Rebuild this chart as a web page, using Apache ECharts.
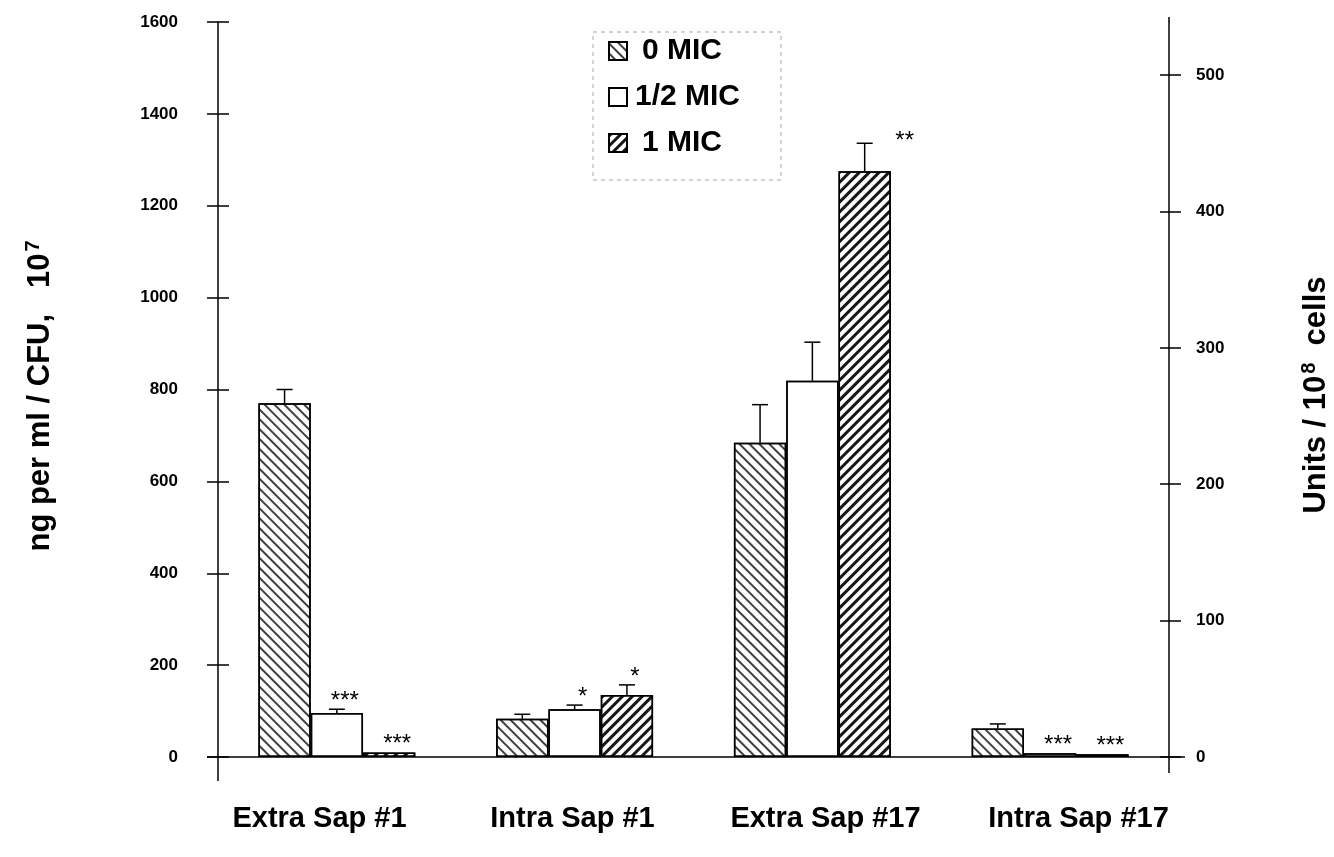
<!DOCTYPE html>
<html>
<head>
<meta charset="utf-8">
<script src="https://cdn.jsdelivr.net/npm/echarts@6/dist/echarts.min.js"></script>
<style>html,body{margin:0;padding:0;background:#fff}#c{width:1334px;height:857px}</style>
</head>
<body>
<div id="c"></div>
<script>
// ---- data ----
const categories = ['Extra Sap #1', 'Intra Sap #1', 'Extra Sap #17', 'Intra Sap #17'];
const seriesNames = ['0 MIC', '1/2 MIC', '1 MIC'];
const mic0 = [770, 83, 684, 62];
const mic0Err = [30, 10, 83, 10];
const micHalf = [96, 104, 819, 8];
const micHalfErr = [8, 9, 84, 0];
const mic1 = [10, 135, 1275, 6];
const mic1Err = [0, 22, 61, 0];
const sig0 = ['', '', '', ''];
const sigHalf = ['***', '*', '', '***'];
const sig1 = ['***', '*', '**', '***'];
const leftTicks = [0, 200, 400, 600, 800, 1000, 1200, 1400, 1600];
const rightTicks = [0, 100, 200, 300, 400, 500];
const leftMax = 1600;
const rightMax = 538.9;
const leftTitle = ['ng per ml / CFU,   10', '7'];
const rightTitle = ['Units / 10', '8', '  cells'];

// ---- layout ----
const GL = 218, GR = 1169, GT = 22, GB = 757;
const BAR_FRAC = 0.22;
const FONT = 'Liberation Sans, Arial, sans-serif';

const chart = echarts.init(document.getElementById('c'), null, {renderer: 'canvas'});

const decal0 = {symbol: 'rect', symbolSize: 1, dashArrayX: [1, 0], dashArrayY: [2, 5], rotation: Math.PI / 4, color: 'rgba(30,30,30,0.85)'};
const decal1 = {symbol: 'rect', symbolSize: 1, dashArrayX: [1, 0], dashArrayY: [3, 4], rotation: -Math.PI / 4, color: 'rgba(10,10,10,0.95)'};

function barSeries(name, data, decal) {
  return {
    name: name, type: 'bar', data: data, barWidth: (BAR_FRAC * 100) + '%', barGap: '0%',
    itemStyle: {color: '#fff', borderColor: '#000', borderWidth: 1.5, decal: decal || {symbol: 'none'}},
    emphasis: {disabled: true}, z: 3
  };
}

function errSeries(idx, vals, errs, sigs) {
  return {
    type: 'custom', silent: true, z: 6,
    data: vals.map((v, i) => [i, v + errs[i], v]),
    encode: {x: 0, y: 1},
    renderItem: function (params, api) {
      const c = api.value(0);
      const band = api.size([1, 0])[0];
      const cx = api.coord([c, 0])[0] + (idx - 1) * band * BAR_FRAC;
      const yv = api.coord([c, api.value(2)])[1];
      const ye = api.coord([c, api.value(1)])[1];
      const children = [];
      const err = api.value(1) - api.value(2);
      if (err > 0) {
        children.push({type: 'line', shape: {x1: cx, y1: yv, x2: cx, y2: ye}, style: {stroke: '#000', lineWidth: 1.5}});
        children.push({type: 'line', shape: {x1: cx - 8, y1: ye, x2: cx + 8, y2: ye}, style: {stroke: '#000', lineWidth: 1.5}});
      }
      const s = sigs[params.dataIndex];
      if (s) {
        const right = s.length === 2;
        children.push({
          type: 'text',
          style: {
            text: s, x: right ? cx + 40 : cx + 8, y: right ? ye + 10 : ye + 4,
            align: 'center', verticalAlign: 'bottom',
            font: '24px ' + FONT, fill: '#000'
          }
        });
      }
      return {type: 'group', children: children};
    }
  };
}

const richTitle = {
  m: {fontFamily: FONT, fontSize: 31, fontWeight: 'bold', color: '#000'},
  s: {fontFamily: FONT, fontSize: 20, fontWeight: 'bold', color: '#000', verticalAlign: 'top', padding: [0, 0, 14, 2]}
};

const option = {
  backgroundColor: '#fff',
  animation: false,
  grid: [
    {left: GL, right: 1334 - GR, top: GT, bottom: 857 - GB, containLabel: false},
    {left: 193, right: 1334 - 1205, top: GT, bottom: 857 - GB, containLabel: false}
  ],
  legend: {
    data: [
      {name: seriesNames[0]},
      {name: seriesNames[1], textStyle: {padding: [0, 0, 0, 3]}},
      {name: seriesNames[2]}
    ],
    orient: 'vertical', left: 603, top: 31,
    itemWidth: 18, itemHeight: 18, itemGap: 16, icon: 'rect',
    textStyle: {fontFamily: FONT, fontSize: 30, fontWeight: 'bold', color: '#000', padding: [0, 0, 0, 10]},
    selectedMode: false
  },
  xAxis: [
    {
      type: 'category', data: categories, gridIndex: 0,
      axisLine: {show: true, lineStyle: {color: '#000', width: 1.5}},
      axisTick: {show: false},
      axisLabel: {show: false},
      splitLine: {show: false}
    },
    {
      type: 'category', data: categories, gridIndex: 1,
      axisLine: {show: false},
      axisTick: {show: false},
      axisLabel: {margin: 47, color: '#000', fontFamily: FONT, fontSize: 29, fontWeight: 'bold'},
      splitLine: {show: false}
    }
  ],
  yAxis: [
    {
      type: 'value', position: 'left', min: 0, max: leftMax, interval: 200,
      axisLine: {show: true, lineStyle: {color: '#000', width: 1.5}},
      axisTick: {show: true, length: 11, lineStyle: {color: '#000', width: 1.5}, customValues: leftTicks},
      axisLabel: {margin: 40, color: '#000', fontFamily: FONT, fontSize: 17, fontWeight: 'bold', customValues: leftTicks, formatter: v => String(v)},
      splitLine: {show: false}
    },
    {
      type: 'value', position: 'right', min: 0, max: rightMax, interval: 100,
      axisLine: {show: true, lineStyle: {color: '#000', width: 1.5}},
      axisTick: {show: true, length: 12, lineStyle: {color: '#000', width: 1.5}, customValues: rightTicks},
      axisLabel: {margin: 27, color: '#000', fontFamily: FONT, fontSize: 17, fontWeight: 'bold', customValues: rightTicks, formatter: v => String(v)},
      splitLine: {show: false}
    },
    {
      type: 'value', position: 'left', min: 0, max: leftMax, interval: 200,
      axisLine: {show: false}, axisLabel: {show: false}, splitLine: {show: false},
      axisTick: {show: true, inside: true, length: 11, lineStyle: {color: '#000', width: 1.5}, customValues: leftTicks}
    },
    {
      type: 'value', position: 'right', min: 0, max: rightMax, interval: 100,
      axisLine: {show: false}, axisLabel: {show: false}, splitLine: {show: false},
      axisTick: {show: true, inside: true, length: 9, lineStyle: {color: '#000', width: 1.5}, customValues: rightTicks}
    },
    {
      type: 'value', gridIndex: 1, show: false, min: 0, max: 1
    }
  ],
  series: [
    barSeries(seriesNames[0], mic0, decal0),
    barSeries(seriesNames[1], micHalf, null),
    barSeries(seriesNames[2], mic1, decal1),
    errSeries(0, mic0, mic0Err, sig0),
    errSeries(1, micHalf, micHalfErr, sigHalf),
    errSeries(2, mic1, mic1Err, sig1)
  ]
};
chart.setOption(option);

// axis-line extensions and titles, placed from the axes' own pixel mapping
const p0 = chart.convertToPixel({xAxisIndex: 0, yAxisIndex: 0}, [0, 0]);
const yTop = chart.convertToPixel({yAxisIndex: 0}, leftMax);
const yBase = p0[1];
const xl = GL, xr = GR;
chart.setOption({
  graphic: [
    {type: 'rect', shape: {x: 593, y: 32, width: 188, height: 148}, style: {fill: 'none', stroke: '#aaa', lineWidth: 1, lineDash: [4, 4]}, z: 1},
    {type: 'line', shape: {x1: xl, y1: yBase, x2: xl, y2: yBase + 24}, style: {stroke: '#000', lineWidth: 1.5}},
    {type: 'line', shape: {x1: xl - 11, y1: yBase, x2: xl, y2: yBase}, style: {stroke: '#000', lineWidth: 1.5}},
    {type: 'line', shape: {x1: xr, y1: yBase, x2: xr + 16, y2: yBase}, style: {stroke: '#000', lineWidth: 1.5}},
    {type: 'line', shape: {x1: xr, y1: yBase, x2: xr, y2: yBase + 16}, style: {stroke: '#000', lineWidth: 1.5}},
    {type: 'line', shape: {x1: xr, y1: yTop - 5, x2: xr, y2: yTop}, style: {stroke: '#000', lineWidth: 1.5}},
    {type: 'text', x: 40, y: 396, rotation: Math.PI / 2,
      style: {text: '{m|' + leftTitle[0] + '}{s|' + leftTitle[1] + '}', rich: richTitle, align: 'center', verticalAlign: 'middle'}},
    {type: 'text', x: 1316, y: 395, rotation: Math.PI / 2,
      style: {text: '{m|' + rightTitle[0] + '}{s|' + rightTitle[1] + '}{m|' + rightTitle[2] + '}', rich: richTitle, align: 'center', verticalAlign: 'middle'}}
  ]
});
</script>
</body>
</html>
